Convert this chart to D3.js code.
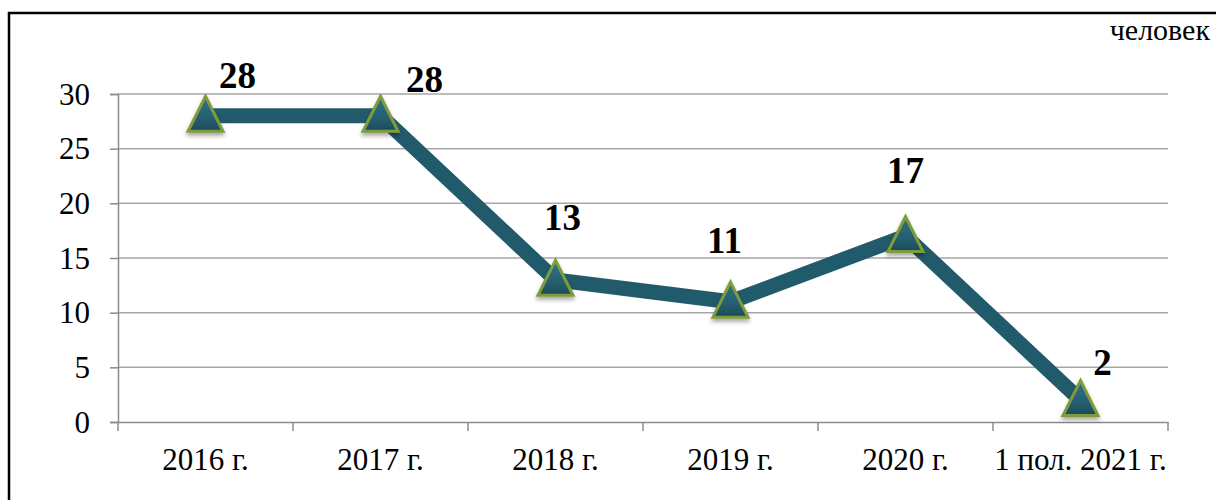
<!DOCTYPE html>
<html>
<head>
<meta charset="utf-8">
<script src="https://cdn.jsdelivr.net/npm/d3@7"></script>
<style>
  body { margin: 0; background: #fff; }
  svg { display: block; font-family: 'Liberation Serif', 'Times New Roman', serif; }
</style>
</head>
<body>
<div id="chart"></div>
<script>
const categories = ['2016 г.', '2017 г.', '2018 г.', '2019 г.', '2020 г.', '1 пол. 2021 г.'];
const values = [28, 28, 13, 11, 17, 2];
const yTicks = [0, 5, 10, 15, 20, 25, 30];
const unitLabel = 'человек';

// hand-placed label offsets, like in the original
const labelOffsets = [[32, -28], [44, -24], [7, -50], [-6, -49], [0, -53], [22, -25]];

const size = { width: 1216, height: 500 };
const margin = { left: 118, right: 48, top: 94, bottom: 78 };

const svg = d3.select('#chart')
  .append('svg')
  .attr('width', size.width)
  .attr('height', size.height);

const defs = svg.append('defs');
const grad = defs.append('linearGradient')
  .attr('id', 'triFill')
  .attr('x1', 0).attr('y1', 0).attr('x2', 0).attr('y2', 1);
grad.append('stop').attr('offset', '0%').attr('stop-color', '#2f7389');
grad.append('stop').attr('offset', '60%').attr('stop-color', '#265f72');
grad.append('stop').attr('offset', '100%').attr('stop-color', '#1c4a59');

const shadow = defs.append('filter').attr('id', 'shadow')
  .attr('x', '-50%').attr('y', '-50%').attr('width', '200%').attr('height', '200%');
shadow.append('feDropShadow')
  .attr('dx', 0).attr('dy', 3).attr('stdDeviation', 2)
  .attr('flood-color', '#000').attr('flood-opacity', 0.35);

// frame
svg.append('rect')
  .attr('x', 9).attr('y', 13)
  .attr('width', 1230).attr('height', 520)
  .attr('fill', 'none')
  .attr('stroke', '#000')
  .attr('stroke-width', 2.5);

const x = d3.scaleBand()
  .domain(categories)
  .range([margin.left, size.width - margin.right]);

const y = d3.scaleLinear()
  .domain([0, 30])
  .range([size.height - margin.bottom, margin.top]);

// gridlines
svg.append('g')
  .selectAll('line')
  .data(yTicks.slice(1))
  .join('line')
  .attr('x1', margin.left)
  .attr('x2', size.width - margin.right)
  .attr('y1', (d) => y(d))
  .attr('y2', (d) => y(d))
  .attr('stroke', '#a6a6a6')
  .attr('stroke-width', 1.5);

// y axis
const yAxis = svg.append('g')
  .attr('transform', `translate(${margin.left},0)`)
  .call(d3.axisLeft(y).tickValues(yTicks).tickSize(8).tickPadding(20));
yAxis.select('.domain').attr('stroke', '#8c8c8c').attr('stroke-width', 1.5);
yAxis.selectAll('.tick line').attr('stroke', '#8c8c8c').attr('stroke-width', 1.5);
yAxis.selectAll('text')
  .attr('fill', '#000')
  .attr('dy', '0.33em')
  .style('font-family', "'Liberation Serif', serif")
  .style('font-size', '31px');

// x axis
const xAxis = svg.append('g')
  .attr('transform', `translate(0,${y(0)})`)
  .call(d3.axisBottom(x).tickSize(0).tickPadding(26));
xAxis.select('.domain').attr('stroke', '#8c8c8c').attr('stroke-width', 1.5);
xAxis.selectAll('text')
  .attr('fill', '#000')
  .style('font-family', "'Liberation Serif', serif")
  .style('font-size', '31px');

// category boundary ticks
const bounds = categories.map((c) => x(c)).concat([x(categories[categories.length - 1]) + x.bandwidth()]);
xAxis.append('g')
  .selectAll('line')
  .data(bounds)
  .join('line')
  .attr('x1', (d) => d)
  .attr('x2', (d) => d)
  .attr('y1', 0)
  .attr('y2', 9)
  .attr('stroke', '#8c8c8c')
  .attr('stroke-width', 1.5);

const cx = (i) => x(categories[i]) + x.bandwidth() / 2;

const line = d3.line()
  .x((d, i) => cx(i))
  .y((d) => y(d));

svg.append('path')
  .datum(values)
  .attr('d', line)
  .attr('fill', 'none')
  .attr('stroke', '#215a6a')
  .attr('stroke-width', 15)
  .attr('stroke-linejoin', 'miter');

// triangle markers
const tri = (px, py) => {
  const h = 35;
  const w = 35;
  return `M${px},${py - h * 0.56}L${px + w / 2},${py + h * 0.44}L${px - w / 2},${py + h * 0.44}Z`;
};

svg.append('g')
  .selectAll('path')
  .data(values)
  .join('path')
  .attr('d', (d, i) => tri(cx(i), y(d)))
  .attr('fill', 'url(#triFill)')
  .attr('stroke', '#7f9c3c')
  .attr('stroke-width', 3)
  .attr('stroke-linejoin', 'miter')
  .attr('filter', 'url(#shadow)');

// data labels
svg.append('g')
  .selectAll('text')
  .data(values)
  .join('text')
  .attr('x', (d, i) => cx(i) + labelOffsets[i][0])
  .attr('y', (d, i) => y(d) + labelOffsets[i][1])
  .attr('text-anchor', 'middle')
  .style('font-size', '37px')
  .style('font-weight', 'bold')
  .attr('fill', '#000')
  .text((d) => d);

svg.append('text')
  .attr('x', 1210)
  .attr('y', 40)
  .attr('text-anchor', 'end')
  .style('font-size', '30px')
  .attr('fill', '#000')
  .text(unitLabel);
</script>
</body>
</html>
